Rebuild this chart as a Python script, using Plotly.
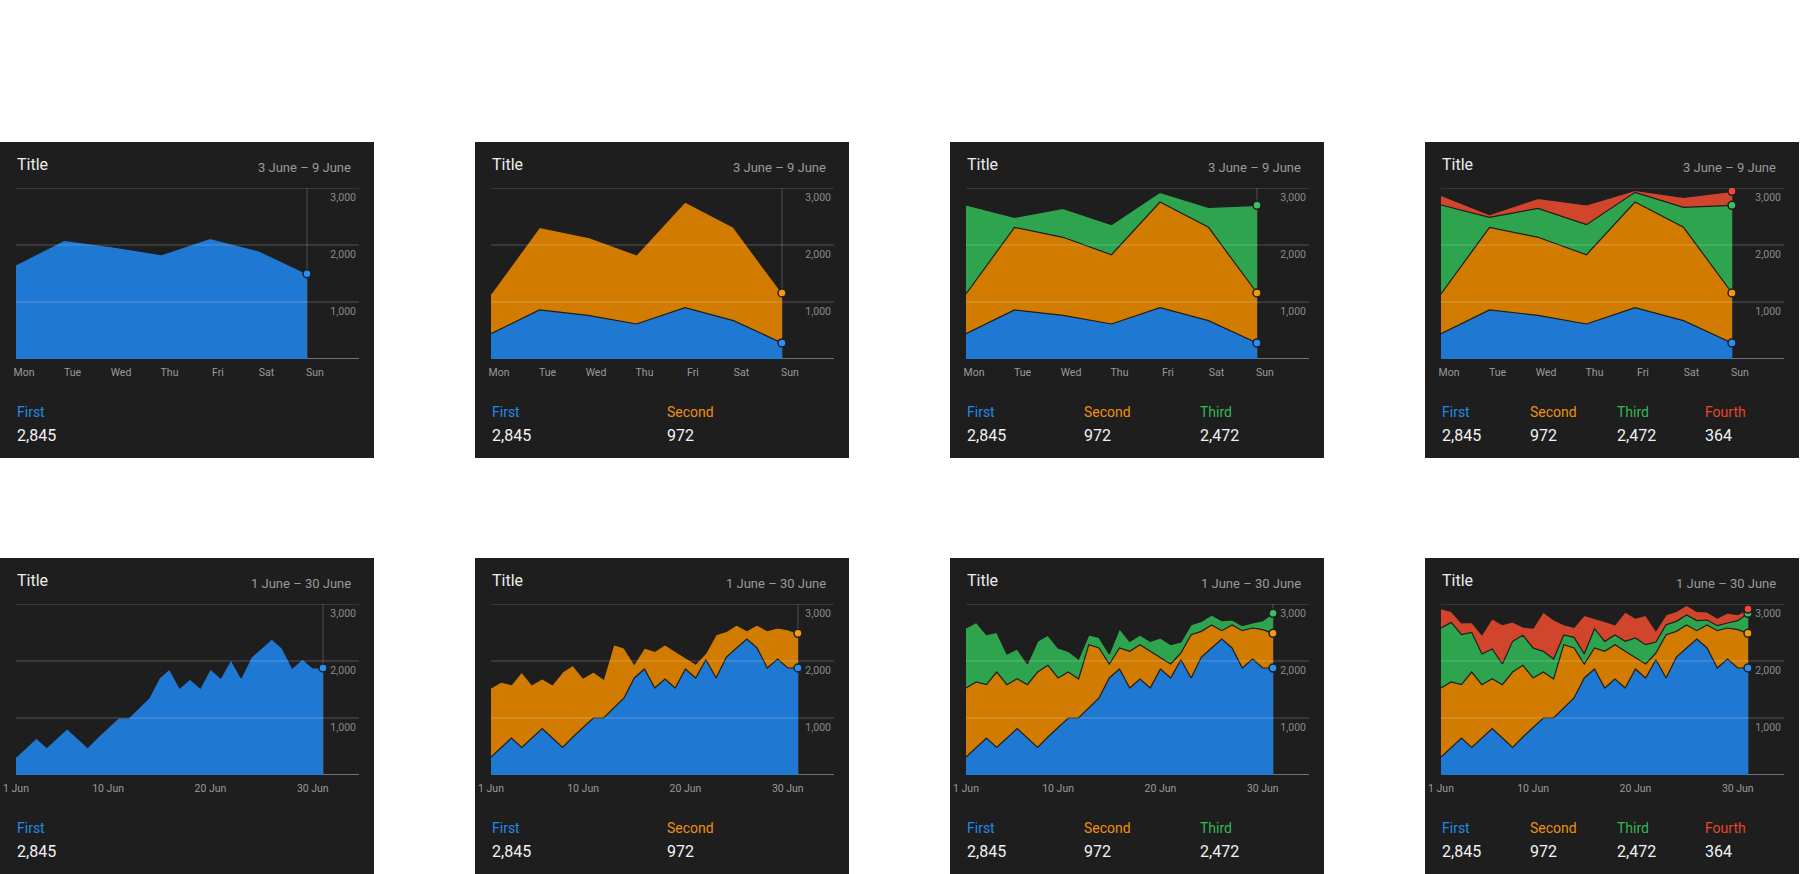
import numpy as np
import pandas as pd
import plotly.graph_objects as go

# ---------------- data ----------------
week_days = ["Mon", "Tue", "Wed", "Thu", "Fri", "Sat", "Sun"]
week_range_label = "3 June – 9 June"
month_range_label = "1 June – 30 June"
panel_title = "Title"

series_names = ["First", "Second", "Third", "Fourth"]
summary_values = [2845, 972, 2472, 364]

# weekly, single-series panel
week_single_first = [1655, 2082, 1965, 1830, 2117, 1900, 1497]
# weekly, stacked panels
week_first = [444, 860, 766, 614, 901, 673, 281]
week_second = [696, 1450, 1369, 1216, 1853, 1637, 877]
week_third = [1562, 175, 508, 527, 170, 351, 1538]
week_fourth = [169, 47, 176, 345, 35, 175, 246]

# monthly (1 June .. 1 July)
month_dates = pd.date_range("2024-06-01", periods=31, freq="D")
month_first = [316, 485, 649, 485, 649, 813, 649, 485, 667, 836, 1000, 1000, 1175, 1351, 1702, 1860,
               1526, 1684, 1526, 1860, 1702, 2023, 1702, 2070, 2228, 2386, 2228, 1877, 2035, 1877, 1877]
month_second = [1210, 1147, 936, 1322, 936, 877, 936, 1322, 1257, 866, 807, 684, 1112, 877, 245, 368,
                644, 603, 644, 193, 245, 117, 760, 450, 404, 146, 404, 655, 544, 673, 608]
month_third = [1053, 1046, 877, 696, 538, 521, 362, 538, 526, 526, 363, 351, 169, 187, 176, 339,
               175, 169, 175, 351, 340, 193, 175, 176, 175, 176, 87, 88, 88, 158, 351]
month_fourth = [339, 193, 205, 175, 339, 532, 690, 339, 146, 351, 690, 690, 181, 176, 678, 187,
                351, 181, 515, 350, 514, 199, 176, 175, 170, 163, 141, 134, 175, 105, 76]
month_tick_days = pd.to_datetime(["2024-06-01", "2024-06-10", "2024-06-20", "2024-06-30"])

y_ticks = [1000, 2000, 3000]
y_max = 3000

# ---------------- style ----------------
W, H = 1800, 874
PANEL_W, PANEL_H = 374, 316
COL_X = [0, 475, 950, 1425]
ROW_Y = [142, 558]
PLOT_L, PLOT_R, PLOT_T, PLOT_B = 16, 359, 46, 217
BG = "#1e1e1e"
FONT = "Roboto"
area_colors = ["#1f78d1", "#d17c00", "#2ea44f", "#d1452c"]
accent_colors = ["#2189e8", "#ee9010", "#36b457", "#ea4432"]
dot_colors = ["#2a8ff2", "#f49a10", "#3cc060", "#f0483a"]


def px(x):
    return x / W


def py(y):
    return 1 - y / H


week_sets = [[week_single_first],
             [week_first, week_second],
             [week_first, week_second, week_third],
             [week_first, week_second, week_third, week_fourth]]
month_sets = [[month_first],
              [month_first, month_second],
              [month_first, month_second, month_third],
              [month_first, month_second, month_third, month_fourth]]

fig = go.Figure()
shapes = []
annotations = []
layout_axes = {}

p = 0
for r in range(2):
    for c in range(4):
        X0, Y0 = COL_X[c], ROW_Y[r]
        n = c + 1
        weekly = r == 0
        xs = week_days if weekly else month_dates
        sets = week_sets[c] if weekly else month_sets[c]
        xa = "x" if p == 0 else f"x{p + 1}"
        ya = "y" if p == 0 else f"y{p + 1}"
        xkey = "xaxis" if p == 0 else f"xaxis{p + 1}"
        ykey = "yaxis" if p == 0 else f"yaxis{p + 1}"

        # panel background
        shapes.append(dict(type="rect", xref="paper", yref="paper",
                           x0=px(X0), x1=px(X0 + PANEL_W), y0=py(Y0 + PANEL_H), y1=py(Y0),
                           fillcolor=BG, line=dict(width=0), layer="below"))

        npts = len(xs)
        for i, vals in enumerate(sets):
            fig.add_trace(go.Scatter(
                x=xs, y=vals, xaxis=xa, yaxis=ya,
                stackgroup=f"g{p}", mode="lines+markers",
                line=dict(color=BG, width=1.2),
                fillcolor=area_colors[i],
                marker=dict(size=8, color=dot_colors[i],
                            opacity=[0] * (npts - 1) + [1],
                            line=dict(color=BG, width=1.5)),
                hoverinfo="skip", showlegend=False, cliponaxis=False,
            ))

        if weekly:
            xaxis = dict(type="category", range=[0, (PLOT_R - PLOT_L) / ((300 - 9) / 6)],
                         ticklabelshift=8)
        else:
            span_days = 30 * (PLOT_R - PLOT_L) / 307
            xaxis = dict(type="date",
                         range=[month_dates[0], month_dates[0] + pd.Timedelta(days=span_days)],
                         tickvals=month_tick_days, tickformat="%-d %b")
        xaxis.update(domain=[px(X0 + PLOT_L), px(X0 + PLOT_R)], anchor=ya,
                     showgrid=False, zeroline=False, showline=False, ticks="",
                     ticklabelstandoff=5, automargin=False,
                     tickfont=dict(family=FONT, size=10.5, color="#9a9a9a"),
                     fixedrange=True)
        yaxis = dict(domain=[py(Y0 + PLOT_B), py(Y0 + PLOT_T)], anchor=xa, side="right",
                     range=[0, y_max], tickvals=y_ticks, tickformat=",",
                     ticklabelposition="inside bottom", ticks="", ticklabelshift=2,
                     showgrid=False, zeroline=False, showline=False, automargin=False,
                     tickfont=dict(family=FONT, size=10.5, color="#8a8a8a"),
                     fixedrange=True)
        layout_axes[xkey] = xaxis
        layout_axes[ykey] = yaxis

        # zero baseline
        shapes.append(dict(type="line", xref=f"{xa} domain", yref=ya, x0=0, x1=1, y0=0, y1=0,
                           line=dict(color="rgba(255,255,255,0.5)", width=1.5), layer="below"))
        # vertical marker line at last point
        shapes.append(dict(type="line", xref=xa, yref=ya, x0=xs[-1], x1=xs[-1], y0=0, y1=y_max,
                           line=dict(color="rgba(255,255,255,0.22)", width=1), layer="below"))
        # gridlines over the areas
        for t in y_ticks:
            shapes.append(dict(type="line", xref=f"{xa} domain", yref=ya, x0=0, x1=1, y0=t, y1=t,
                               line=dict(color="rgba(255,255,255,0.24)", width=1), layer="above"))

        # header
        annotations.append(dict(text=panel_title, xref="paper", yref="paper",
                                x=px(X0 + 15), y=py(Y0 + 22), xanchor="left", yanchor="middle",
                                showarrow=False, font=dict(family=FONT, size=16, color="#ececec")))
        annotations.append(dict(text=week_range_label if weekly else month_range_label,
                                xref="paper", yref="paper",
                                x=px(X0 + 353), y=py(Y0 + 25), xanchor="right", yanchor="middle",
                                showarrow=False, font=dict(family=FONT, size=13, color="#9a9a9a")))
        # legend / summary
        for i in range(n):
            lx = X0 + 15 + i * 350 / n
            annotations.append(dict(text=series_names[i], xref="paper", yref="paper",
                                    x=px(lx), y=py(Y0 + 270), xanchor="left", yanchor="middle",
                                    showarrow=False,
                                    font=dict(family=FONT, size=14, color=accent_colors[i])))
            annotations.append(dict(text=f"{summary_values[i]:,}", xref="paper", yref="paper",
                                    x=px(lx), y=py(Y0 + 293), xanchor="left", yanchor="middle",
                                    showarrow=False,
                                    font=dict(family=FONT, size=16, color="#f2f2f2")))
        p += 1

fig.update_layout(
    width=W, height=H,
    margin=dict(l=0, r=0, t=0, b=0, pad=0, autoexpand=False),
    paper_bgcolor="white", plot_bgcolor="rgba(0,0,0,0)",
    showlegend=False, hovermode=False,
    shapes=shapes, annotations=annotations,
    font=dict(family=FONT),
    **layout_axes,
)

fig.write_html("out.html", config={"displayModeBar": False, "responsive": False},
               post_script="document.body.style.margin='0px';document.body.style.overflow='hidden';")
